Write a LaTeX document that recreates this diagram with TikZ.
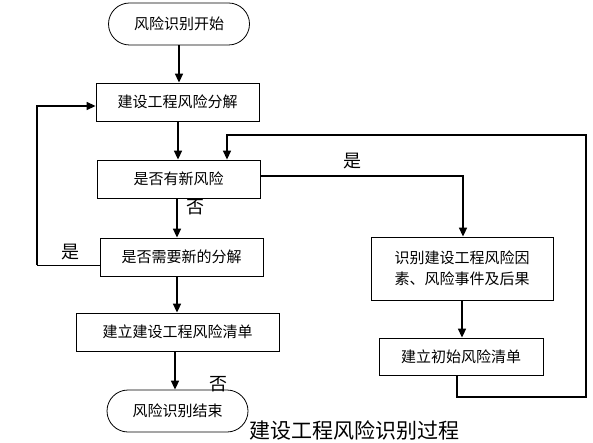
\documentclass[tikz,border=0pt]{standalone}
\usepackage{fontspec}
\setmainfont{Noto Sans CJK SC}
\usetikzlibrary{arrows.meta}

\newcommand{\fsz}{\fontsize{15}{21}\selectfont}
\newcommand{\bx}{\node[rectangle, draw, line width=0.8pt, minimum height=38, font=\fsz]}
\newcommand{\tn}{\node[rectangle, rounded corners=21, draw, line width=0.8pt, minimum width=141, minimum height=42, font=\fsz]}
\newcommand{\lb}{\node[font=\fontsize{18}{18}\selectfont]}

\begin{document}
\begin{tikzpicture}[x=1pt, y=-1pt, >={Triangle[length=9pt, width=8pt]}]
            \useasboundingbox (0,0) rectangle (593,443);

            \tn (start) at (179,24) {风险识别开始};
            \bx[minimum width=163] (split) at (177.5,102) {建设工程风险分解};
            \bx[minimum width=163] (newrisk) at (178.5,179) {是否有新风险};
            \bx[minimum width=163] (needsplit) at (181.5,257) {是否需要新的分解};
            \bx[minimum width=203] (risklist) at (177.5,332) {建立建设工程风险清单};
            \tn (finish) at (177.5,411) {风险识别结束};
            \bx[minimum width=182, minimum height=63, align=left] (ident) at (462,268.5) {识别建设工程风险因\\素、风险事件及后果};
            \bx[minimum width=164, minimum height=37] (initlist) at (461,356.5) {建立初始风险清单};

            \coordinate (lp) at (37,265);
            \coordinate (yr) at (463,176);
            \coordinate (rb) at (586,397);
            \coordinate (rt) at (586,135);

            \lb (yes1) at (352,161) {是};
            \lb (no1) at (195,207) {否};
            \lb (yes2) at (70,252) {是};
            \lb (no2) at (218,384) {否};
            \node[font=\fontsize{21}{21}\selectfont] (title) at (354,430) {建设工程风险识别过程};

            \draw[->, line width=1.6pt]
                (start.south) -- (start.south |- split.north);
            \draw[->, line width=1.6pt]
                ([xshift=0.5]split.south) -- ([xshift=0.5]split.south |- newrisk.north);
            \draw[->, line width=1.6pt]
                ([xshift=-1.5]newrisk.south) -- ([xshift=-1.5]newrisk.south |- needsplit.north);
            \draw[->, line width=1.6pt]
                ([xshift=-4.5]needsplit.south) -- ([xshift=-4.5]needsplit.south |- risklist.north);
            \draw[->, line width=1.6pt]
                ([xshift=-2.5]risklist.south) -- ([xshift=-2.5]risklist.south |- finish.north);
            \draw[->, line width=1.6pt]
                ([yshift=3]newrisk.east) -- (yr) -- (yr |- ident.north);
            \draw[->, line width=1.6pt]
                (ident.south) -- (ident.south |- initlist.north);

            \draw[line width=0.8pt]
                ([yshift=-8]needsplit.west) -- (lp);
            \draw[->, line width=1.4pt]
                (lp) |- ([yshift=-4]split.west);
            \draw[->, line width=1.4pt]
                ([xshift=-4]initlist.south) |- (rb) -- (rt) -| ([xshift=48.5]newrisk.north);
        \end{tikzpicture}
\end{document}
